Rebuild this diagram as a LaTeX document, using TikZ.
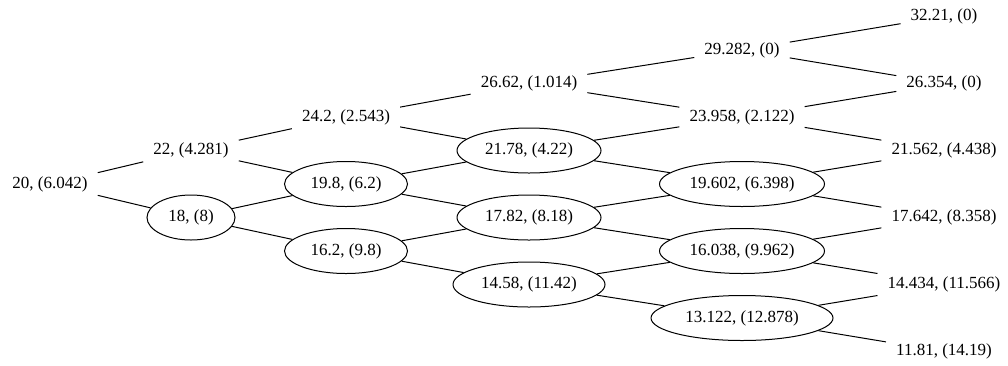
\documentclass[tikz,border=0pt]{standalone}
\usepackage{fontspec}
\setmainfont{Liberation Serif}
\usetikzlibrary{shapes.geometric}
\begin{document}
\begin{tikzpicture}[x=1pt,y=-1pt,
  every node/.style={font=\fontsize{17}{20}\selectfont},
  pt/.style={rectangle,draw=none,inner xsep=10pt,inner ysep=0pt,minimum height=44pt},
  ov/.style={ellipse,draw,line width=1pt,inner sep=0pt,minimum height=45pt,minimum width=#1},
  edge/.style={line width=1pt}]
\path[fill=white,use as bounding box] (0,0) rectangle (1008,365);
% level 0
\node[pt] (a5) at (50,184) {20, (6.042)};
% level 1
\node[pt] (b4) at (191,150.5) {22, (4.281)};
\node[ov=88pt] (b6) at (191,217.5) {18, (8)};
% level 2
\node[pt] (c3) at (346,117) {24.2, (2.543)};
\node[ov=123pt] (c5) at (346,184) {19.8, (6.2)};
\node[ov=123pt] (c7) at (346,251) {16.2, (9.8)};
% level 3
\node[pt] (d2) at (529,83.5) {26.62, (1.014)};
\node[ov=144pt] (d4) at (529,150.5) {21.78, (4.22)};
\node[ov=144pt] (d6) at (529,217.5) {17.82, (8.18)};
\node[ov=152pt] (d8) at (529,284.5) {14.58, (11.42)};
% level 4
\node[pt] (e1) at (742,50) {29.282, (0)};
\node[pt] (e3) at (742,117) {23.958, (2.122)};
\node[ov=165pt] (e5) at (742,184) {19.602, (6.398)};
\node[ov=165pt] (e7) at (742,251) {16.038, (9.962)};
\node[ov=182pt] (e9) at (742,318) {13.122, (12.878)};
% level 5
\node[pt] (f0) at (944,16.5) {32.21, (0)};
\node[pt] (f2) at (944,83.5) {26.354, (0)};
\node[pt] (f4) at (944,150.5) {21.562, (4.438)};
\node[pt] (f6) at (944,217.5) {17.642, (8.358)};
\node[pt] (f8) at (944,284.5) {14.434, (11.566)};
\node[pt] (f10) at (944,351.5) {11.81, (14.19)};
% edges
\draw[edge] (a5) -- (b4);
\draw[edge] (a5) -- (b6);
\draw[edge] (b4) -- (c3);
\draw[edge] (b4) -- (c5);
\draw[edge] (b6) -- (c5);
\draw[edge] (b6) -- (c7);
\draw[edge] (c3) -- (d2);
\draw[edge] (c3) -- (d4);
\draw[edge] (c5) -- (d4);
\draw[edge] (c5) -- (d6);
\draw[edge] (c7) -- (d6);
\draw[edge] (c7) -- (d8);
\draw[edge] (d2) -- (e1);
\draw[edge] (d2) -- (e3);
\draw[edge] (d4) -- (e3);
\draw[edge] (d4) -- (e5);
\draw[edge] (d6) -- (e5);
\draw[edge] (d6) -- (e7);
\draw[edge] (d8) -- (e7);
\draw[edge] (d8) -- (e9);
\draw[edge] (e1) -- (f0);
\draw[edge] (e1) -- (f2);
\draw[edge] (e3) -- (f2);
\draw[edge] (e3) -- (f4);
\draw[edge] (e5) -- (f4);
\draw[edge] (e5) -- (f6);
\draw[edge] (e7) -- (f6);
\draw[edge] (e7) -- (f8);
\draw[edge] (e9) -- (f8);
\draw[edge] (e9) -- (f10);
\end{tikzpicture}
\end{document}
